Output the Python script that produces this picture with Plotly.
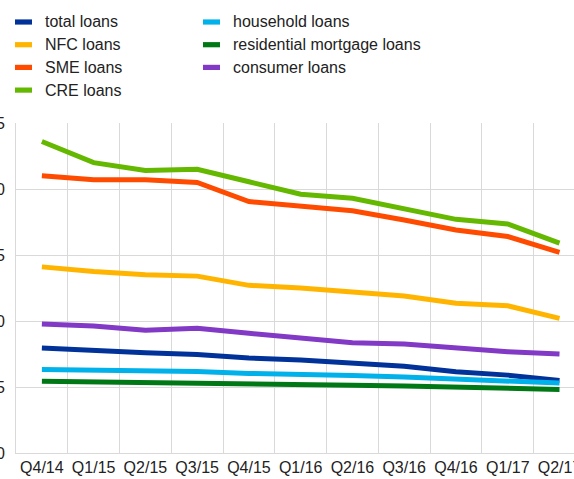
import plotly.graph_objects as go

# Quarterly NPL ratios (%) by loan segment
quarters = ["Q4/14", "Q1/15", "Q2/15", "Q3/15", "Q4/15", "Q1/16",
            "Q2/16", "Q3/16", "Q4/16", "Q1/17", "Q2/17"]

total_loans = [7.95, 7.75, 7.6, 7.47, 7.2, 7.04, 6.79, 6.57, 6.15, 5.9, 5.5]
nfc_loans = [14.1, 13.75, 13.5, 13.4, 12.7, 12.5, 12.2, 11.9, 11.35, 11.15, 10.2]
sme_loans = [21.0, 20.7, 20.7, 20.5, 19.05, 18.7, 18.35, 17.65, 16.9, 16.4, 15.2]
cre_loans = [23.6, 22.0, 21.4, 21.5, 20.55, 19.6, 19.3, 18.5, 17.7, 17.35, 15.9]
household_loans = [6.33, 6.3, 6.23, 6.18, 6.03, 5.98, 5.88, 5.75, 5.6, 5.5, 5.3]
residential_mortgage_loans = [5.44, 5.4, 5.36, 5.32, 5.24, 5.27, 5.14, 5.08, 4.98, 4.9, 4.82]
consumer_loans = [9.77, 9.62, 9.3, 9.45, 9.07, 8.73, 8.35, 8.25, 7.93, 7.67, 7.5]

series_names = ["total loans", "NFC loans", "SME loans", "CRE loans",
                "household loans", "residential mortgage loans", "consumer loans"]
series_values = [total_loans, nfc_loans, sme_loans, cre_loans,
                 household_loans, residential_mortgage_loans, consumer_loans]
series_colors = ["#003299", "#FFB400", "#FF4B00", "#65B800",
                 "#00B1EA", "#007816", "#8139C6"]

W, H = 574, 479
ML, MR, MT, MB = 16, 0, 123, 26
PW, PH = W - ML - MR, H - MT - MB

FONT = "Liberation Sans, Arial, sans-serif"
TEXT = "#222222"
GRID = "#d9d9d9"

fig = go.Figure()
for name, vals, col in zip(series_names, series_values, series_colors):
    fig.add_trace(go.Scatter(
        x=quarters, y=vals, name=name, mode="lines",
        line=dict(color=col, width=5), showlegend=False,
    ))


def px_x(p):
    return (p - ML) / PW


def px_y(p):
    return (H - MB - p) / PH


# Two-column legend drawn as swatches and labels above the plot
shapes, annotations = [], []
col_x = [(15, 32, 43), (203, 220, 231)]
row_y = [22, 44.7, 67.4, 90.1]
for i, (name, col) in enumerate(zip(series_names, series_colors)):
    c, r = (0, i) if i < 4 else (1, i - 4)
    x0, x1, xt = col_x[c]
    yc = row_y[r]
    shapes.append(dict(type="rect", xref="paper", yref="paper",
                       x0=px_x(x0), x1=px_x(x1),
                       y0=px_y(yc + 2.6), y1=px_y(yc - 2.6),
                       fillcolor=col, line=dict(width=0), layer="above"))
    annotations.append(dict(text=name, xref="paper", yref="paper",
                            x=px_x(xt), y=px_y(yc), xanchor="left",
                            yanchor="middle", showarrow=False,
                            font=dict(family=FONT, size=16, color=TEXT)))

fig.update_layout(
    width=W, height=H,
    margin=dict(l=ML, r=MR, t=MT, b=MB, pad=0),
    paper_bgcolor="white", plot_bgcolor="white",
    font=dict(family=FONT, size=16, color=TEXT),
    shapes=shapes, annotations=annotations,
    xaxis=dict(
        type="category", range=[-0.5, 10.28],
        tickson="boundaries", showgrid=True, gridcolor=GRID, gridwidth=1,
        showline=True, linecolor=GRID, linewidth=1,
        ticks="outside", ticklen=4, tickcolor="rgba(0,0,0,0)",
        tickangle=0,
        tickfont=dict(family=FONT, size=16, color=TEXT),
        automargin=False, fixedrange=True,
    ),
    yaxis=dict(
        range=[0, 25], tickvals=[0, 5, 10, 15, 20, 25],
        showgrid=True, gridcolor=GRID, gridwidth=1,
        showline=True, linecolor=GRID, linewidth=1, zeroline=False,
        ticks="outside", ticklen=7, tickcolor="rgba(0,0,0,0)",
        tickfont=dict(family=FONT, size=16, color=TEXT),
        automargin=False, fixedrange=True,
    ),
)

fig.write_html("out.html", config={"displayModeBar": False})
